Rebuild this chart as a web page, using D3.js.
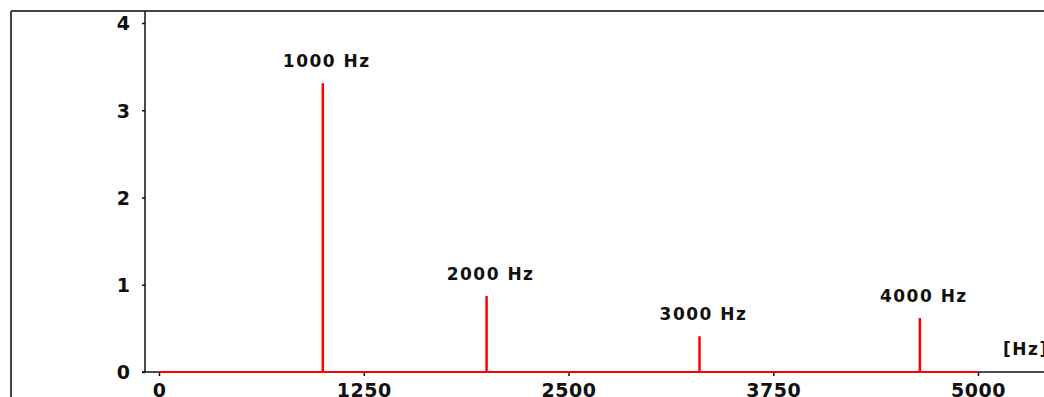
<!DOCTYPE html>
<html><head><meta charset="utf-8">
<script src="https://cdn.jsdelivr.net/npm/d3@7"></script>
<style>
html,body{margin:0;padding:0;background:#fff;overflow:hidden}
svg{display:block}
text{font-family:"DejaVu Sans",sans-serif;font-weight:bold;fill:#111}
</style></head><body>
<svg id="c" width="1044" height="397"></svg>
<script>
const peakFreqs = [1000, 2000, 3300, 4645];
const peakAmps = [3.31, 0.87, 0.41, 0.62];
const peakLabels = ["1000 Hz", "2000 Hz", "3000 Hz", "4000 Hz"];
const xTicks = [0, 1250, 2500, 3750, 5000];
const yTicks = [0, 1, 2, 3, 4];
const spectrumRange = [0, 5000];
const unitLabel = "[Hz]";

const W = 1044, H = 397;
const svg = d3.select("#c");
const x = d3.scaleLinear().domain([0, 5000]).range([159, 978]);
const y = d3.scaleLinear().domain([0, 4]).range([372, 23]);

// frame
svg.append("line").attr("x1", 11).attr("x2", W).attr("y1", 11).attr("y2", 11)
  .attr("stroke", "#444").attr("stroke-width", 2);
svg.append("line").attr("x1", 11).attr("x2", 11).attr("y1", 11).attr("y2", H)
  .attr("stroke", "#444").attr("stroke-width", 2);

// y axis
const yAxis = d3.axisLeft(y).tickValues(yTicks).tickSize(3).tickPadding(12).tickFormat(d3.format("d"));
const gy = svg.append("g").attr("transform", "translate(145,0)").call(yAxis);
gy.select(".domain").remove();
gy.append("line").attr("x1", 0).attr("x2", 0).attr("y1", 11).attr("y2", y(0)).attr("stroke", "#111").attr("stroke-width", 1.5);
gy.selectAll(".tick line").attr("stroke", "#111").attr("stroke-width", 1.5);
gy.selectAll(".tick text").attr("font-size", 19).attr("font-family", "DejaVu Sans").attr("font-weight", "bold").attr("fill", "#111").attr("dy", "0.36em");

// x axis
const xAxis = d3.axisBottom(x).tickValues(xTicks).tickSize(4).tickPadding(7).tickFormat(d3.format("d"));
const gx = svg.append("g").attr("transform", `translate(0,${y(0)})`).call(xAxis);
gx.select(".domain").remove();
gx.append("line").attr("x1", 142).attr("x2", W).attr("y1", 0).attr("y2", 0).attr("stroke", "#111").attr("stroke-width", 1.5);
gx.selectAll(".tick line").attr("stroke", "#111").attr("stroke-width", 1.5);
gx.selectAll(".tick text").attr("font-size", 19).attr("font-family", "DejaVu Sans").attr("font-weight", "bold").attr("fill", "#111").attr("dy", "0.72em").attr("letter-spacing", "0.5px");

// red baseline
svg.append("line").attr("x1", x(spectrumRange[0])).attr("x2", x(spectrumRange[1]))
  .attr("y1", y(0)).attr("y2", y(0)).attr("stroke", "#ff0000").attr("stroke-width", 2);

// peaks
const peaks = peakFreqs.map((f, i) => ({f, a: peakAmps[i], label: peakLabels[i]}));
svg.selectAll("line.peak").data(peaks).join("line").attr("class", "peak")
  .attr("x1", d => x(d.f)).attr("x2", d => x(d.f))
  .attr("y1", y(0)).attr("y2", d => y(d.a))
  .attr("stroke", "#ff0000").attr("stroke-width", 2.5);

svg.selectAll("text.plabel").data(peaks).join("text").attr("class", "plabel")
  .attr("x", d => x(d.f) + 4).attr("y", d => y(d.a) - 16)
  .attr("text-anchor", "middle").attr("font-size", 17).attr("letter-spacing", "1.5px")
  .text(d => d.label);

svg.append("text").attr("x", 1003).attr("y", 355).attr("font-size", 17).attr("letter-spacing", "1.5px").text(unitLabel);
</script>
</body></html>
